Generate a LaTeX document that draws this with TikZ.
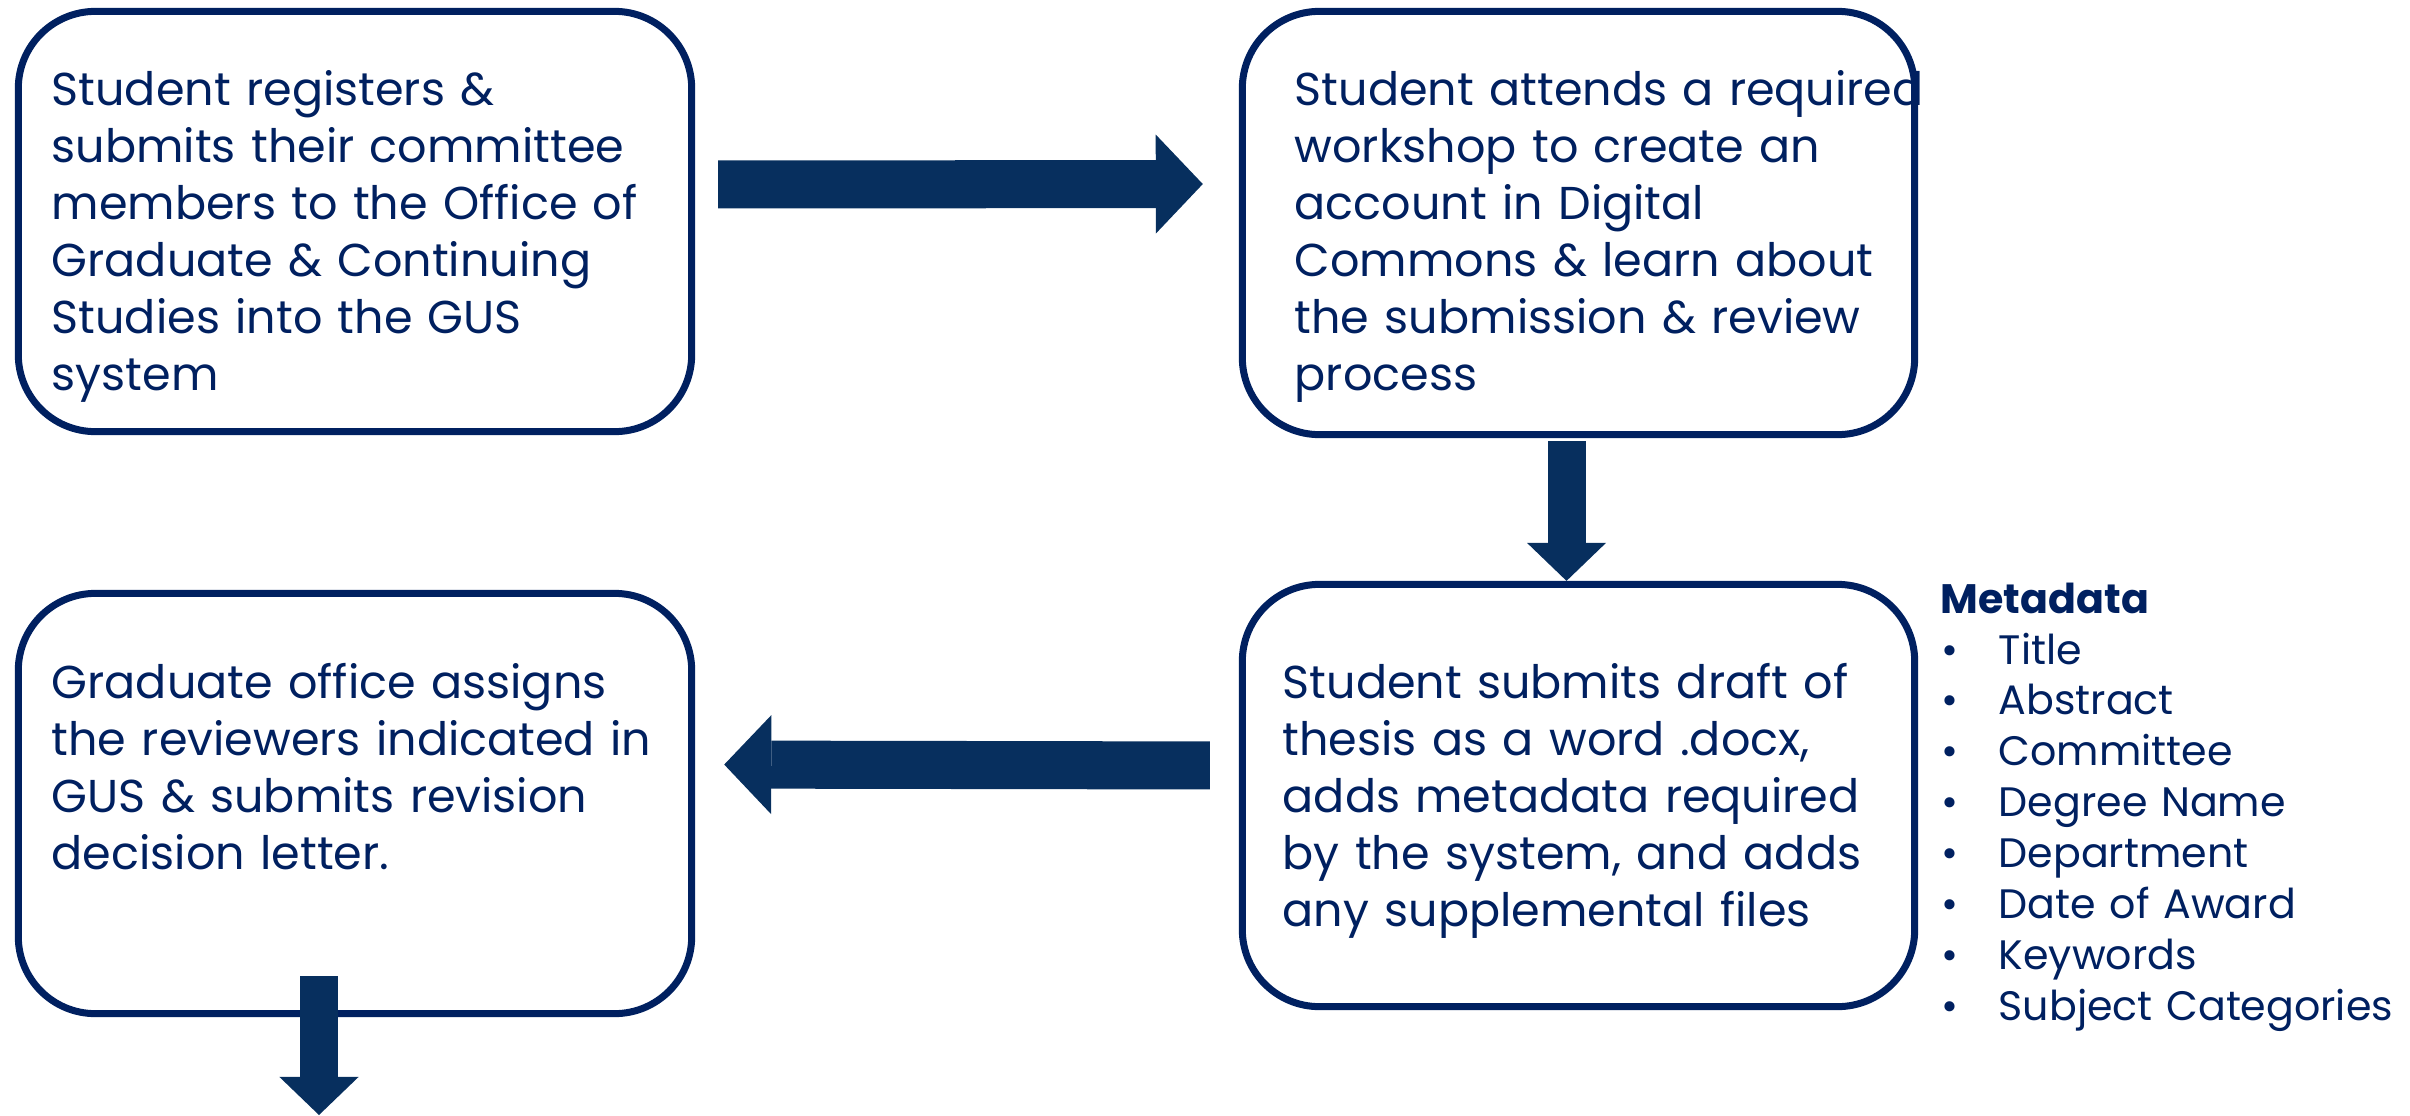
\documentclass[tikz,border=0pt]{standalone}
\usepackage{fontspec}
\setmainfont{Poppins}
\usetikzlibrary{arrows.meta}
\definecolor{navy}{RGB}{0,32,96}
\definecolor{arrowblue}{RGB}{7,47,94}
\newcommand{\metabullet}{\makebox[0.58cm][l]{\hspace{0.01cm}\textbullet}}
\tikzset{
    stepbox/.style = {rectangle, rounded corners=0.77cm, line width=0.07cm, draw=navy, fill=white, inner sep=0pt},
    boxtext/.style = {anchor=base west, inner sep=0pt, text width=7.2cm, align=left, text=navy, font=\fontsize{13.1}{16.22}\selectfont},
    metatext/.style = {anchor=base west, inner sep=0pt, text width=4.6cm, align=left, text=navy, font=\fontsize{11.7}{14.5}\selectfont},
    hflow/.style = {line width=0.48cm, arrowblue, -{Triangle[width=0.99cm,length=0.47cm,line width=0pt]}},
    vflow/.style = {line width=0.38cm, arrowblue, -{Triangle[width=0.79cm,length=0.38cm,line width=0pt]}}
}

\begin{document}
\begin{tikzpicture}[x=0.01cm,y=-0.01cm]
\useasboundingbox (0,0) rectangle (2410,1115);
\node[stepbox, minimum width=6.73cm, minimum height=4.20cm] at (355,221.5) (b1) {};
\node[stepbox, minimum width=6.72cm, minimum height=4.23cm] at (1578.5,223) (b2) {};
\node[stepbox, minimum width=6.72cm, minimum height=4.22cm] at (1578.5,795.5) (b3) {};
\node[stepbox, minimum width=6.73cm, minimum height=4.20cm] at (355,803.5) (b4) {};
%
\node[boxtext] at (51,105) (t1) {Student registers \&\\ submits their committee\\ members to the Office of\\ Graduate \& Continuing\\ Studies into the GUS\\ system};
\node[boxtext] at (1294,105) (t2) {Student attends a required\\ workshop to create an\\ account in Digital\\ Commons \& learn about\\ the submission \& review\\ process};
\node[boxtext] at (1282,698) (t3) {Student submits draft of\\ thesis as a word .docx,\\ adds metadata required\\ by the system, and adds\\ any supplemental files};
\node[boxtext] at (51,698) (t4) {Graduate office assigns\\ the reviewers indicated in\\ GUS \& submits revision\\ decision letter.};
\node[metatext] at (1940,613) (meta) {\textbf{Metadata}\\ \metabullet Title\\ \metabullet Abstract\\ \metabullet Committee\\ \metabullet Degree Name\\ \metabullet Department\\ \metabullet Date of Award\\ \metabullet Keywords\\ \metabullet Subject Categories};
\coordinate (next) at (319,1115);
%
\draw[hflow, shorten <=0.23cm, shorten >=0.36cm] ([shift={(0,-37)}]b1.east) -- ([shift={(0,-39)}]b2.west);
\draw[vflow, shorten <=0.03cm] ([shift={(-12,0)}]b2.south) -- ([shift={(-12,0)}]b3.north);
\draw[hflow, shorten <=0.29cm, shorten >=0.29cm] ([shift={(0,-30)}]b3.west) -- ([shift={(0,-39)}]b4.east);
\draw[vflow] ([shift={(-36,-41)}]b4.south) -- (next);
\end{tikzpicture}
\end{document}
